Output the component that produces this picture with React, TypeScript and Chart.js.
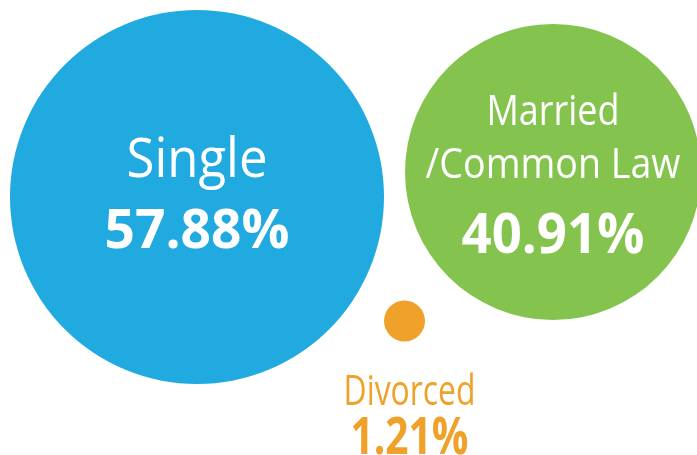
import React, { useEffect, useRef } from "react";
import { Chart, registerables } from "chart.js";

Chart.register(...registerables);

// Data
const categories: string[][] = [["Single"], ["Married", "/Common Law"], ["Divorced"]];
const shares: number[] = [57.88, 40.91, 1.21];
const valueLabels: string[] = ["57.88%", "40.91%", "1.21%"];
// Bubble series (x, y in layout units, r radius)
const bubbleX: number[] = [197, 553, 404.5];
const bubbleY: number[] = [197, 172, 321];
const bubbleR: number[] = [187, 148, 20.5];
const colors: string[] = ["#20AAE0", "#84C44E", "#F0A12A"];

const W = 697;
const H = 455;

// label layout relative to bubble center
const labelStyle = [
  { dx: 0, color: "#FFFFFF", nameSize: 54, nameBase: [-20], nameW: [141], valSize: 54, valBase: 51, valW: 185 },
  { dx: 0, color: "#FFFFFF", nameSize: 42, nameBase: [-47, 6], nameW: [133, 255], valSize: 55, valBase: 81, valW: 183 },
  { dx: 5, color: "#F0A12A", nameSize: 42, nameBase: [84], nameW: [132], valSize: 52, valBase: 133, valW: 118 },
];

const FONT = '"Open Sans", "Noto Sans", sans-serif';

function drawFit(ctx: CanvasRenderingContext2D, text: string, x: number, y: number, w: number) {
  const m = ctx.measureText(text).width;
  const s = m > 0 ? w / m : 1;
  ctx.save();
  ctx.translate(x, y);
  ctx.scale(s, 1);
  ctx.fillText(text, 0, 0);
  ctx.restore();
}

const labelPlugin = {
  id: "bubbleLabels",
  afterDatasetsDraw(chart: any) {
    const ctx: CanvasRenderingContext2D = chart.ctx;
    const meta = chart.getDatasetMeta(0);
    ctx.save();
    ctx.textAlign = "center";
    ctx.textBaseline = "alphabetic";
    meta.data.forEach((el: any, i: number) => {
      const st = labelStyle[i];
      const cx = el.x + st.dx;
      ctx.fillStyle = st.color;
      ctx.font = `400 ${st.nameSize}px ${FONT}`;
      categories[i].forEach((line, j) => {
        drawFit(ctx, line, cx, el.y + st.nameBase[j], st.nameW[j]);
      });
      ctx.font = `700 ${st.valSize}px ${FONT}`;
      drawFit(ctx, valueLabels[i], cx, el.y + st.valBase, st.valW);
    });
    ctx.restore();
  },
};

export default function App() {
  const ref = useRef<HTMLCanvasElement | null>(null);
  useEffect(() => {
    if (!ref.current) return;
    const chart = new Chart(ref.current, {
      type: "bubble",
      data: {
        datasets: [
          {
            label: "Marital status",
            data: shares.map((v, i) => ({ x: bubbleX[i], y: bubbleY[i], r: bubbleR[i], v })),
            backgroundColor: colors,
            borderWidth: 0,
            hoverRadius: 0,
            clip: false,
          } as any,
        ],
      },
      options: {
        animation: false,
        responsive: false,
        events: [],
        layout: { padding: 0, autoPadding: false },
        plugins: { legend: { display: false }, tooltip: { enabled: false } },
        scales: {
          x: { type: "linear", display: false, min: 0, max: W },
          y: { type: "linear", display: false, min: 0, max: H, reverse: true },
        },
      },
      plugins: [labelPlugin],
    });
    return () => chart.destroy();
  }, []);
  return (
    <div style={{ position: "absolute", left: 0, top: 0, width: W, height: H, background: "#fff" }}>
      <canvas ref={ref} width={W} height={H} style={{ width: W, height: H, display: "block" }} />
    </div>
  );
}
